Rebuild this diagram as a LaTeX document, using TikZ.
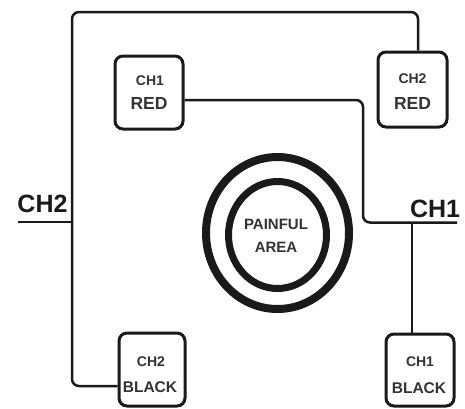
\documentclass[tikz,border=0pt]{standalone}
\usepackage{fontspec}
\setmainfont{Liberation Sans}
\definecolor{ink}{HTML}{1A1A1A}
\definecolor{txt}{HTML}{333333}
\begin{document}
\begin{tikzpicture}[x=1pt,y=-1pt,
  wire/.style={draw=ink,line width=2.5pt,rounded corners=7pt},
  probe/.style={draw=ink,line width=3pt,rounded corners=8pt,inner sep=0pt,fill=white},
  small/.style={text=txt,anchor=base,inner sep=0pt,font=\bfseries\fontsize{14}{14}\selectfont},
  big/.style={text=txt,anchor=base,inner sep=0pt,font=\bfseries\fontsize{17.5}{17.5}\selectfont},
  bigb/.style={big,font=\bfseries\fontsize{15.5}{15.5}\selectfont},
  chan/.style={text=ink,anchor=base,inner sep=0pt,font=\bfseries\fontsize{25}{25}\selectfont}]
\useasboundingbox[fill=white] (0,0) rectangle (465,408);

% probe boxes
\node[probe,minimum width=68pt,minimum height=73pt] (c1r) at (149,92.5) {};
\node[probe,minimum width=69pt,minimum height=75pt] (c2r) at (412.5,89.5) {};
\node[probe,minimum width=66pt,minimum height=73pt] (c2b) at (152,369.5) {};
\node[probe,minimum width=68pt,minimum height=72pt] (c1b) at (420,370) {};

\node[small] (c1rA) at (150,85.5) {CH1};
\node[big]   (c1rB) at (149,109) {RED};
\node[small] (c2rA) at (412.5,83.5) {CH2};
\node[big]   (c2rB) at (412.5,109) {RED};
\node[small] (c2bA) at (151,366.5) {CH2};
\node[bigb]  (c2bB) at (150,392.5) {BLACK};
\node[small] (c1bA) at (420,366) {CH1};
\node[bigb]  (c1bB) at (419,393) {BLACK};

% CH2 wire
\coordinate (tl) at (72,12);
\draw[wire] ([xshift=5.5pt]c2r.north) |- (tl) |- ([yshift=-16.5pt]c2b.west);
\coordinate (ch2u) at (18,222);
\draw[wire,rounded corners=0pt] (ch2u) -- (ch2u -| tl);
\node[chan] (ch2) at (42.5,212) {CH2};

% CH1 wire
\coordinate (ch1bend) at (363,222.5);
\coordinate (ch1end) at (457,222.5);
\draw[wire] ([yshift=-7.5pt]c1r.east) -| (ch1bend) -- (ch1end);
\coordinate (ch1tap) at (412,222.5);
\draw[wire,rounded corners=0pt] (ch1tap) -- (ch1tap |- c1b.north);
\node[chan] (ch1) at (435,217) {CH1};

% painful area
\node[align=center,text=txt,inner sep=0pt,font=\bfseries\fontsize{15}{23}\selectfont] (pain) at (276,236) {PAINFUL\\AREA};
\draw[ink,line width=8pt] (277.5,233) ellipse [x radius=71.5pt, y radius=76pt];
\draw[ink,line width=7pt] (277.5,235) ellipse [x radius=49pt, y radius=53.5pt];
\end{tikzpicture}
\end{document}
